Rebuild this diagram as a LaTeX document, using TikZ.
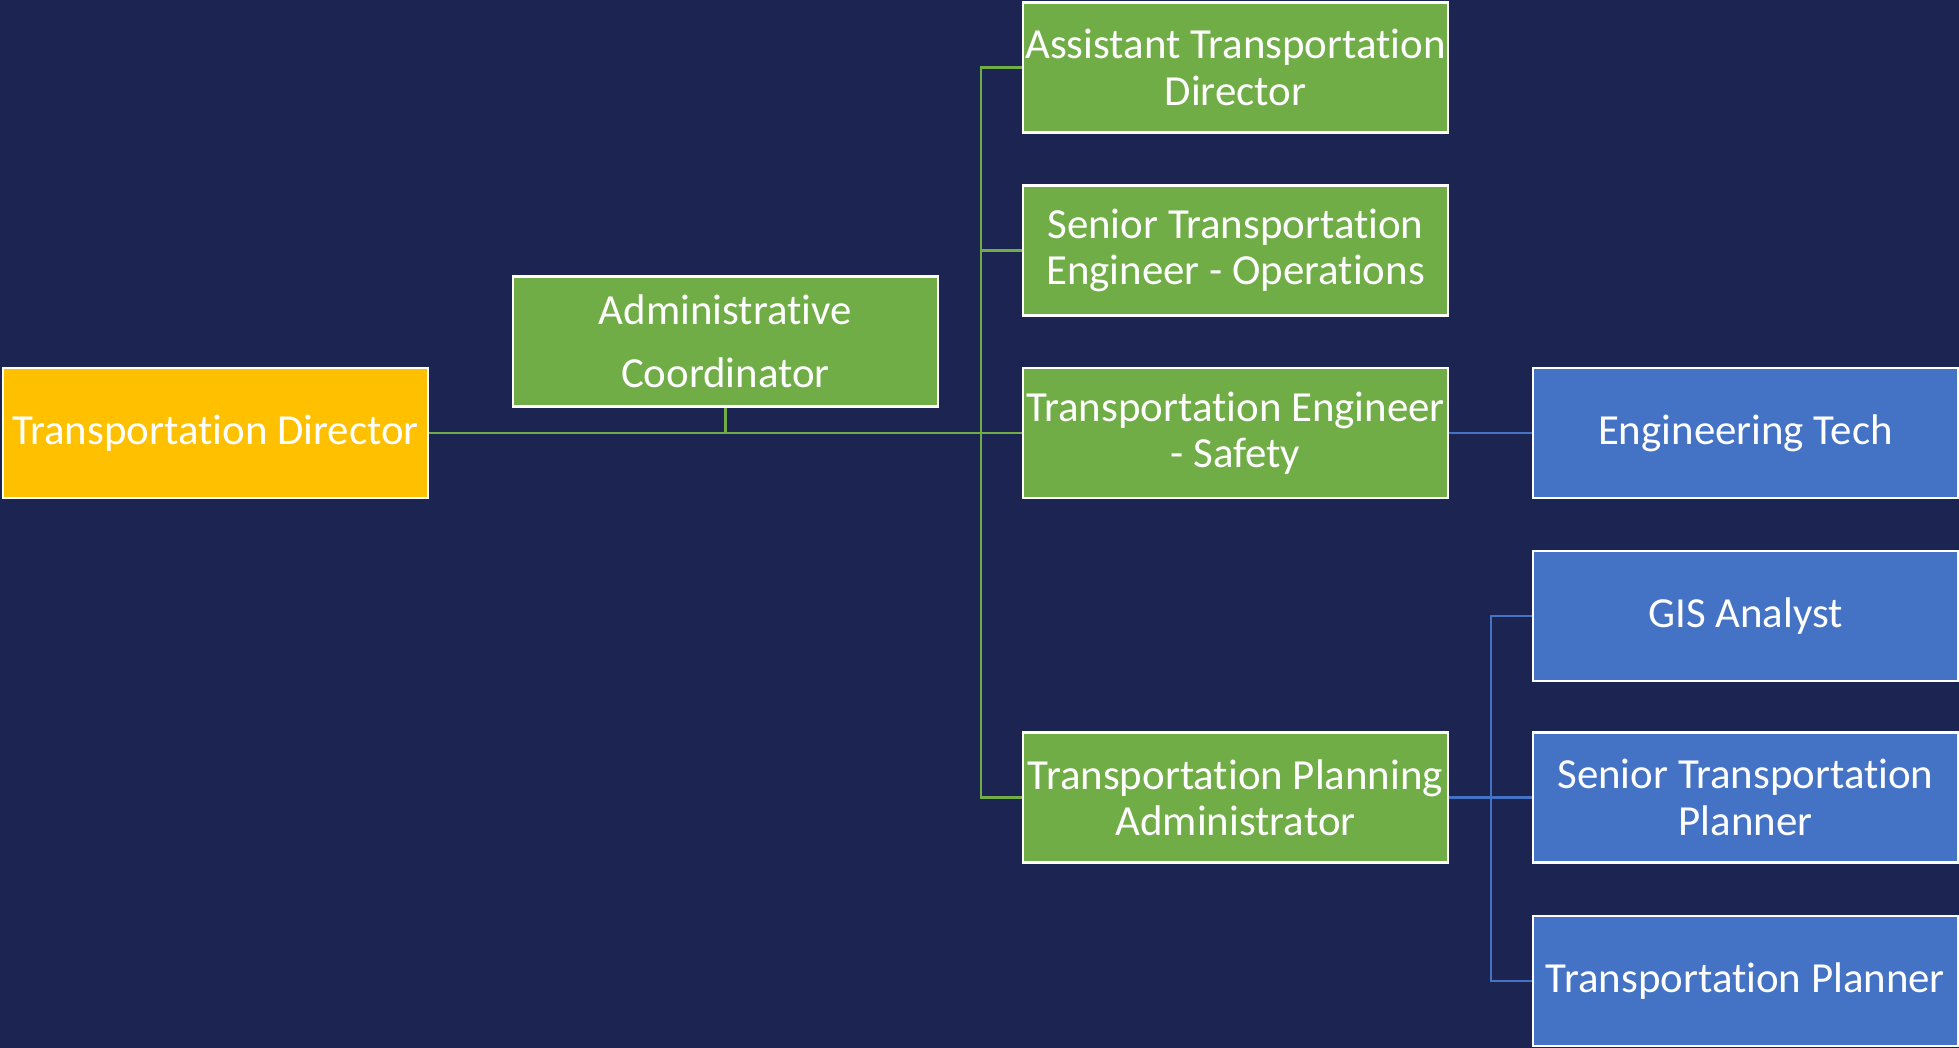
\documentclass[tikz,border=0pt]{standalone}
\usepackage{fontspec}
\setmainfont{Carlito}[Ligatures=NoCommon]
\usetikzlibrary{calc}
\definecolor{bgnavy}{HTML}{1C2551}
\definecolor{boxgold}{HTML}{FFC000}
\definecolor{boxgreen}{HTML}{70AD47}
\definecolor{boxblue}{HTML}{4472C4}
\tikzset{
	myblockbase/.style={rectangle, draw=white, line width=1.2pt, minimum width=8.5cm, minimum height=2.6cm,
				inner sep=0.05cm, text centered, align=center, font=\fontsize{24.4}{26.4}\selectfont, text=white
				},
	myblockhead/.style={myblockbase, fill=boxgold},
	myblockmid/.style={myblockbase, fill=boxgreen},
	myblockstaff/.style={myblockbase, fill=boxblue},
	mylinkgreen/.style={draw=boxgreen, line width=1.6pt},
	mylinkblue/.style={draw=boxblue, line width=1.6pt}
	}

\begin{document}
\begin{tikzpicture}[x=0.02cm, y=-0.02cm]

				\fill[bgnavy] (0,0) rectangle (1959,1048);

				% trunk points
				\coordinate (trunkgreen) at (981, 433);
				\coordinate (trunkblue) at (1491, 797.5);

				\node[myblockhead] (director) at (215.5, 433) {Transportation Director};

				\node[myblockmid] (admincoord) at (725.5, 341.5) {Administrative\\[9.5pt] Coordinator};

				\node[myblockmid] (asstdirector) at (1235.5, 67.5) {Assistant Transportation\\ Director};
				\node[myblockmid] (engops) at (1235.5, 250.5) {Senior Transportation\\ Engineer - Operations};
				\node[myblockmid] (engsafety) at (1235.5, 433) {Transportation Engineer\\ - Safety};
				\node[myblockmid] (planadmin) at (1235.5, 797.5) {Transportation Planning\\ Administrator};

				\node[myblockstaff] (engtech) at (1745.5, 433) {Engineering Tech};
				\node[myblockstaff] (gis) at (1745.5, 616) {GIS Analyst};
				\node[myblockstaff] (srplanner) at (1745.5, 797.5) {Senior Transportation\\ Planner};
				\node[myblockstaff] (planner) at (1745.5, 981) {Transportation Planner};

				\draw[mylinkgreen] (director.east) -- (engsafety.west);
				\draw[mylinkgreen] (admincoord.south) -- (admincoord.south |- trunkgreen);
				\draw[mylinkgreen] (asstdirector.west) -| (trunkgreen);
				\draw[mylinkgreen] (engops.west) -| (trunkgreen);
				\draw[mylinkgreen] (planadmin.west) -| (trunkgreen);

				\draw[mylinkblue] (engsafety.east) -- (engtech.west);
				\draw[mylinkblue] (planadmin.east) -- (srplanner.west);
				\draw[mylinkblue] (gis.west) -| (trunkblue);
				\draw[mylinkblue] (planner.west) -| (trunkblue);

\end{tikzpicture}
\end{document}
